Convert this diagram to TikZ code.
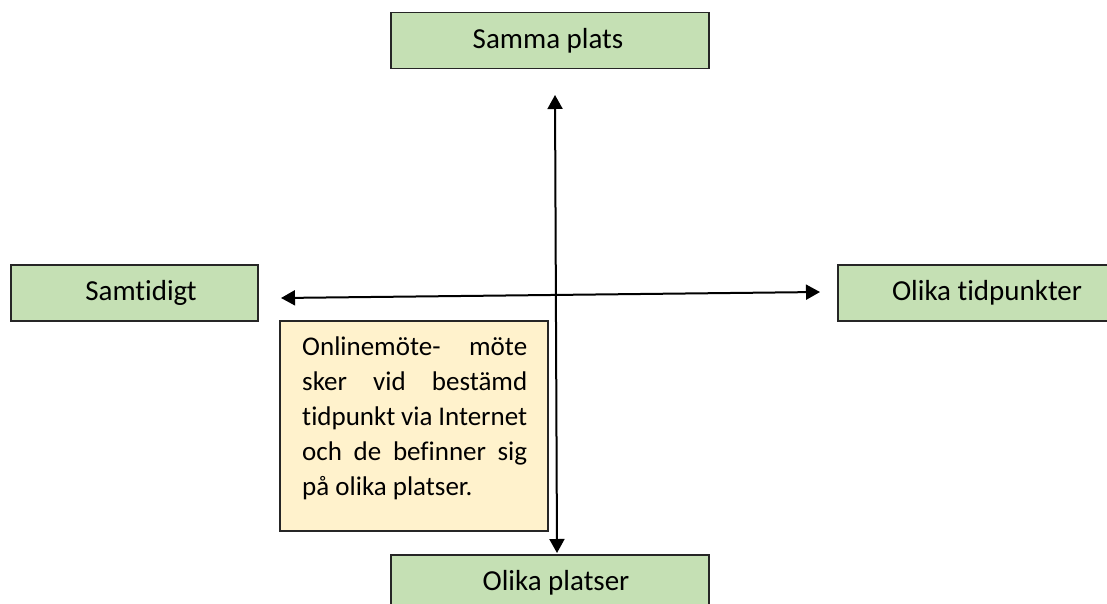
\documentclass[tikz,border=0pt]{standalone}
\usepackage{fontspec}
\setmainfont{Carlito}[Ligatures=NoCommon]
\usepackage{ragged2e}
\usetikzlibrary{arrows.meta}
\definecolor{boxgreen}{HTML}{C5E0B4}
\definecolor{noteyellow}{HTML}{FFF2CC}
\begin{document}
\begin{tikzpicture}[x=1pt,y=-1pt,
  greenbox/.style={draw=black!85,line width=1.5pt,fill=boxgreen,anchor=north west,inner sep=0pt},
  labeltext/.style={inner sep=0pt,font=\fontsize{29}{35}\selectfont},
  conn/.style={line width=2pt,{Triangle[length=14pt,width=15pt]}-{Triangle[length=14pt,width=15pt]}}]
\useasboundingbox (0,0) rectangle (1107,604);
\begin{scope}
\clip (0,0) rectangle (1107,604);
\node[greenbox,minimum width=318pt,minimum height=56pt] (samma) at (390,12) {};
\node[labeltext] (sammatext) at (548,41) {Samma plats};
\node[greenbox,minimum width=247pt,minimum height=56pt] (samtidigt) at (10,264) {};
\node[labeltext] (samtidigttext) at (141,293) {Samtidigt};
\node[greenbox,minimum width=300pt,minimum height=56pt] (olikatid) at (837,264) {};
\node[labeltext] (olikatidtext) at (987,293) {Olika tidpunkter};
\node[greenbox,minimum width=318pt,minimum height=70pt] (olikaplats) at (390,554) {};
\node[labeltext] (olikaplatstext) at (556,583) {Olika platser};
\node[draw=black!85,line width=1.5pt,fill=noteyellow,anchor=north west,minimum width=268pt,minimum height=210pt] (notebg) at (279,320) {};
\node[anchor=north west,text width=225pt,inner sep=0pt,font=\fontsize{27}{35}\selectfont] (note) at (302,337) {\justifying Onlinemöte- möte\linebreak sker vid bestämd\linebreak tidpunkt via Internet\linebreak och de befinner sig\linebreak på olika platser.\par};
\end{scope}
\coordinate (vtop) at (555,95);
\coordinate (vbot) at (557,553);
\coordinate (hleft) at (281,298);
\coordinate (hright) at (820,292);
\draw[conn] (vtop) -- (vbot);
\draw[conn] (hleft) -- (hright);
\end{tikzpicture}
\end{document}
